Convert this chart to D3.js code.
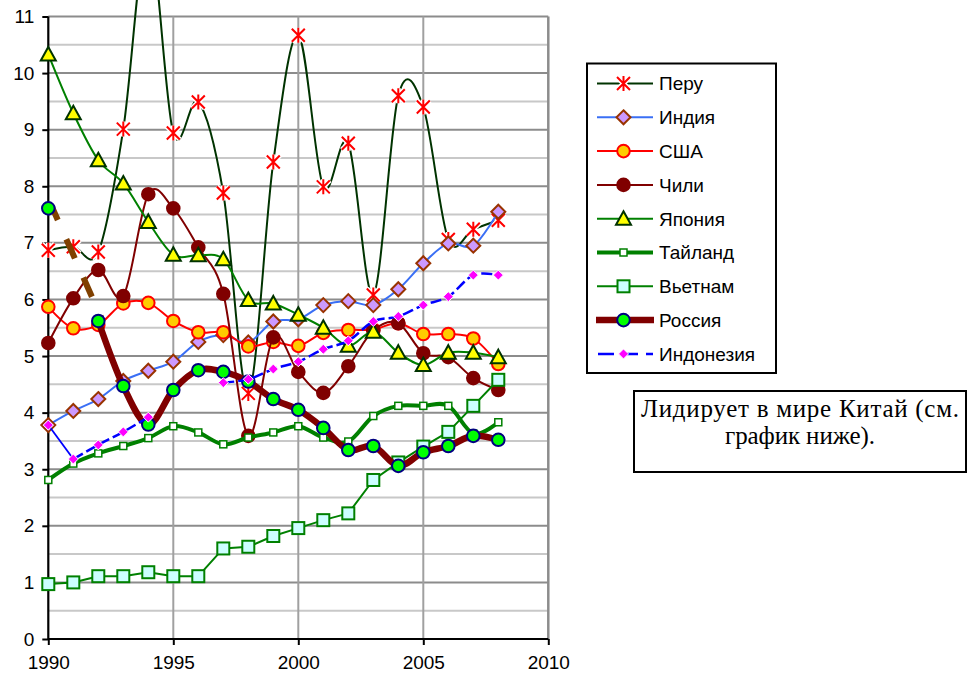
<!DOCTYPE html>
<html><head><meta charset="utf-8">
<script src="https://cdn.jsdelivr.net/npm/d3@7/dist/d3.min.js"></script>
<style>body{margin:0;background:#fff}svg{display:block}</style>
</head><body>
<script>
const years = [1990,1991,1992,1993,1994,1995,1996,1997,1998,1999,2000,2001,2002,2003,2004,2005,2006,2007,2008];
const peru      = [6.87,6.93,6.84,9.01,12.5,8.94,9.49,7.88,4.34,8.43,10.67,7.99,8.76,6.08,9.60,9.40,7.06,7.24,7.40];
const india     = [3.78,4.03,4.24,4.56,4.74,4.90,5.25,5.37,5.24,5.61,5.65,5.90,5.97,5.90,6.18,6.64,6.99,6.95,7.55];
const usa       = [5.87,5.49,5.55,5.93,5.94,5.62,5.42,5.42,5.17,5.25,5.18,5.41,5.46,5.47,5.58,5.39,5.39,5.31,4.86];
const chile     = [5.23,6.02,6.52,6.06,7.86,7.61,6.92,6.10,3.59,5.33,4.72,4.35,4.82,5.45,5.58,5.05,4.98,4.61,4.40];
const japan     = [10.33,9.29,8.46,8.05,7.37,6.79,6.78,6.71,5.99,5.93,5.73,5.50,5.18,5.43,5.06,4.84,5.06,5.06,4.98];
const thailand  = [2.81,3.10,3.28,3.41,3.55,3.76,3.65,3.44,3.56,3.65,3.76,3.56,3.49,3.94,4.12,4.12,4.12,3.63,3.83];
const vietnam   = [0.97,1.00,1.11,1.11,1.18,1.11,1.11,1.60,1.63,1.82,1.96,2.10,2.22,2.81,3.12,3.40,3.66,4.12,4.58];
const russia    = [7.61,null,5.62,4.47,3.79,4.40,4.75,4.72,4.55,4.24,4.05,3.73,3.34,3.41,3.06,3.30,3.41,3.59,3.52];
const indonesia = [3.78,3.18,3.43,3.66,3.92,null,null,4.53,4.59,4.77,4.90,5.12,5.27,5.61,5.70,5.90,6.05,6.43,6.43];
const seriesNames = ["Перу","Индия","США","Чили","Япония","Тайланд","Вьетнам","Россия","Индонезия"];
const yTicks = [0,1,2,3,4,5,6,7,8,9,10,11];
const xTicks = [1990,1995,2000,2005,2010];
const noteLines = ["Лидирует в мире Китай (см.","график ниже)."];

const W=977,H=677;
const svg=d3.select("body").append("svg").attr("width",W).attr("height",H);
const x=d3.scaleLinear().domain([1990,2010]).range([48.3,548.3]);
const y=d3.scaleLinear().domain([0,11]).range([639,16.5]);
const font="Arial, 'Liberation Sans', sans-serif";

// grid
const g=svg.append("g");
const halfTicks=d3.range(0.5,11,1);
g.selectAll(".minor").data(halfTicks).join("line")
 .attr("x1",x(1990)).attr("x2",x(2010)).attr("y1",d=>y(d)).attr("y2",d=>y(d))
 .attr("stroke","#c8c8c8").attr("stroke-width",2);
g.selectAll(".major").data(yTicks.slice(1)).join("line")
 .attr("x1",x(1990)).attr("x2",x(2010)).attr("y1",d=>y(d)).attr("y2",d=>y(d))
 .attr("stroke","#8c8c8c").attr("stroke-width",2);
g.selectAll(".vg").data(xTicks.slice(1)).join("line")
 .attr("x1",d=>x(d)).attr("x2",d=>x(d)).attr("y1",y(0)).attr("y2",y(11))
 .attr("stroke",d=>d===2010?"#8c8c8c":"#a0a0a0").attr("stroke-width",d=>d===2010?2.5:2);

// axes
const yAxis=svg.append("g").attr("transform",`translate(${x(1990)},0)`)
 .call(d3.axisLeft(y).tickValues(yTicks).tickSize(6).tickPadding(8).tickFormat(d3.format("d")));
const xAxis=svg.append("g").attr("transform",`translate(0,${y(0)})`)
 .call(d3.axisBottom(x).tickValues(xTicks).tickSize(6).tickPadding(11).tickFormat(d3.format("d")));
[yAxis,xAxis].forEach(a=>{
  a.select(".domain").attr("stroke","#000").attr("stroke-width",2.2);
  a.selectAll(".tick line").attr("stroke","#000").attr("stroke-width",2);
  a.selectAll("text").attr("font-family",font).attr("font-size",19).attr("fill","#000");
});
xAxis.select(".domain").attr("d",`M${x(1990)},0H${x(2010)}`);
yAxis.select(".domain").attr("d",`M0,${y(0)}V${y(11)}`);

// series definitions (styles)
const defs=[
 {name:seriesNames[0],data:peru,line:"#003300",w:2,marker:"star"},
 {name:seriesNames[1],data:india,line:"#3a6ff5",w:2,marker:"diamond",fill:"#cc99ff",stroke:"#993300"},
 {name:seriesNames[2],data:usa,line:"#ff0000",w:2,marker:"circle",fill:"#ffcc00",stroke:"#ff0000"},
 {name:seriesNames[3],data:chile,line:"#800000",w:2,marker:"circle",fill:"#800000",stroke:"#800000"},
 {name:seriesNames[4],data:japan,line:"#008000",w:2,marker:"triangle",fill:"#ffff00",stroke:"#003300"},
 {name:seriesNames[5],data:thailand,line:"#008000",w:4,marker:"smallsquare",fill:"#ffffff",stroke:"#008000"},
 {name:seriesNames[6],data:vietnam,line:"#008000",w:2,marker:"square",fill:"#ccffff",stroke:"#008000",straight:true},
 {name:seriesNames[7],data:russia,line:"#800000",w:6.5,marker:"circle",fill:"#00ff00",stroke:"#000080"},
 {name:seriesNames[8],data:indonesia,line:"#0000ff",w:2.5,marker:"smalldiamond",fill:"#ff00ff",stroke:"#ff00ff",dash:"11,4"}
];

function drawMarker(sel,type,d){
  if(type==="star"){
    const s=6.5;
    const p=`M${-s},${-s}L${s},${s}M${s},${-s}L${-s},${s}M0,${-s-1}L0,${s+1}`;
    sel.append("path").attr("d",p).attr("stroke","#fff").attr("stroke-width",5).attr("fill","none");
    sel.append("path").attr("d",p).attr("stroke","#ff0000").attr("stroke-width",2).attr("fill","none");
  } else if(type==="diamond"){
    sel.append("path").attr("d","M0,-7L7,0L0,7L-7,0Z").attr("fill",d.fill).attr("stroke",d.stroke).attr("stroke-width",2);
  } else if(type==="smalldiamond"){
    sel.append("path").attr("d","M0,-5L5,0L0,5L-5,0Z").attr("fill",d.fill).attr("stroke","#fff").attr("stroke-width",1);
  } else if(type==="circle"){
    sel.append("circle").attr("r",6.3).attr("fill",d.fill).attr("stroke",d.stroke).attr("stroke-width",2);
  } else if(type==="triangle"){
    sel.append("path").attr("d","M0,-7.5L7.5,6L-7.5,6Z").attr("fill",d.fill).attr("stroke",d.stroke).attr("stroke-width",2);
  } else if(type==="smallsquare"){
    sel.append("rect").attr("x",-3.5).attr("y",-3.5).attr("width",7).attr("height",7).attr("fill",d.fill).attr("stroke",d.stroke).attr("stroke-width",1.5);
  } else if(type==="square"){
    sel.append("rect").attr("x",-6).attr("y",-6).attr("width",12).attr("height",12).attr("fill",d.fill).attr("stroke",d.stroke).attr("stroke-width",2);
  }
}

const plot=svg.append("g");
defs.forEach(s=>{
  const pts=years.map((yr,i)=>({yr,v:s.data[i]}));
  const line=d3.line().defined(p=>p.v!==null).x(p=>x(p.yr)).y(p=>y(p.v))
    .curve(s.straight?d3.curveLinear:d3.curveCatmullRom.alpha(0));
  const gg=plot.append("g");
  if(s.dash){
    const first=pts.slice(0,2);
    gg.append("path").attr("d",d3.line().x(p=>x(p.yr)).y(p=>y(p.v))(first))
      .attr("fill","none").attr("stroke",s.line).attr("stroke-width",1.8);
    gg.append("path").attr("d",line(pts.slice(1))).attr("fill","none").attr("stroke",s.line)
      .attr("stroke-width",s.w).attr("stroke-dasharray",s.dash);
  } else {
    gg.append("path").attr("d",line(pts)).attr("fill","none").attr("stroke",s.line)
      .attr("stroke-width",s.w).attr("stroke-linejoin","round");
  }
  if(s.name===seriesNames[7]){
    const known=pts.filter(p=>p.v!==null).slice(0,2);
    gg.append("path").attr("d",d3.line().x(p=>x(p.yr)).y(p=>y(p.v))(known))
      .attr("transform","translate(3,-3)")
      .attr("fill","none").attr("stroke","#804000").attr("stroke-width",6)
      .attr("stroke-dasharray","21,21").attr("stroke-dashoffset",5);
  }
  pts.filter(p=>p.v!==null).forEach(p=>{
    const m=gg.append("g").attr("transform",`translate(${x(p.yr)},${y(p.v)})`);
    drawMarker(m,s.marker,s);
  });
});

// legend
const lg=svg.append("g");
lg.append("rect").attr("x",587).attr("y",63.5).attr("width",189).attr("height",309.5)
  .attr("fill","#fff").attr("stroke","#000").attr("stroke-width",2);
defs.forEach((s,i)=>{
  const cy=83.5+i*33.8;
  const it=lg.append("g");
  it.append("line").attr("x1",s.w>5?596:597).attr("x2",s.w>5?654:653).attr("y1",cy).attr("y2",cy)
    .attr("stroke",s.line).attr("stroke-width",s.w)
    .attr("stroke-dasharray",s.dash?"16,8":null).attr("stroke-dashoffset",s.dash?-1:null);
  const m=it.append("g").attr("transform",`translate(623.5,${cy})`);
  drawMarker(m,s.marker,s);
  it.append("text").attr("x",659).attr("y",cy).attr("dy","0.36em")
    .attr("font-family",font).attr("font-size",19).text(s.name);
});

// note box
const nb=svg.append("g");
nb.append("rect").attr("x",634).attr("y",391).attr("width",332).attr("height",81)
  .attr("fill","#fff").attr("stroke","#000").attr("stroke-width",2);
const noteWidths=[318,150];
nb.selectAll("text").data(noteLines).join("text")
  .attr("x",(d,i)=>800-noteWidths[i]/2).attr("y",(d,i)=>417+i*27)
  .attr("textLength",(d,i)=>noteWidths[i]).attr("lengthAdjust","spacing")
  .attr("font-family","'Times New Roman','Liberation Serif',serif").attr("font-size",25).text(d=>d);
</script>
</body></html>
